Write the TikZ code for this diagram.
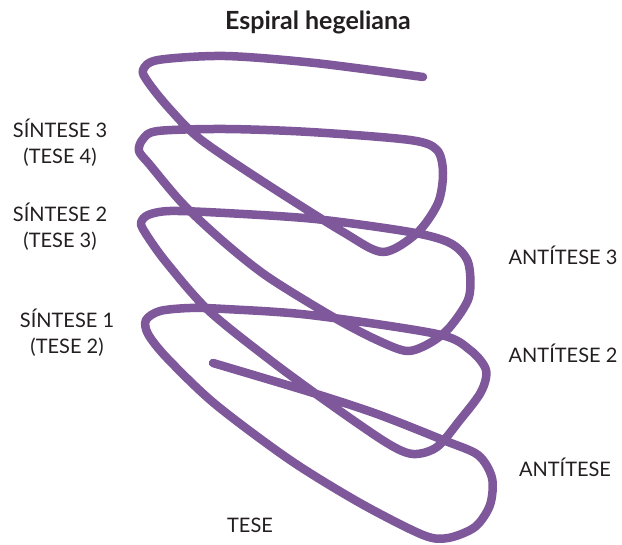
\documentclass[tikz,border=0pt]{standalone}
\usepackage{fontspec}
\setmainfont{Lato}
\usetikzlibrary{positioning}

\definecolor{hegelpurple}{RGB}{126,88,154}
\definecolor{labelink}{RGB}{35,31,32}

\begin{document}
\begin{tikzpicture}[x=1pt, y=-1pt,
		stage/.style={font=\fontsize{20}{26}\selectfont, text=labelink, align=center, inner sep=0pt},
		spiral/.style={line width=8.5pt, hegelpurple, line cap=round, line join=round}]
	
	\useasboundingbox (0,0) rectangle (622,545);
	
	% Title
	\node[font=\fontsize{25}{30}\selectfont\bfseries, text=labelink] (title) at (318,22) {Espiral hegeliana};
	
	% Spiral (from TESE upwards)
	\draw[spiral] plot[smooth, tension=0.5] coordinates {
		(213,363) (310,392) (377,414) (443,440) (478,455) (492,478) (490,505) (475,527) (448,538) (423,535)
		(360,503) (290,460) (215,404) (167,358) (148,334) (146,320) (160,311) (190,308)
		(225,309) (310,315) (437,334) (470,350) (486,370) (481,392) (460,420) (437,447) (413,454) (387,443)
		(330,404) (270,360) (208,310) (166,262) (146,234) (141,223) (148,215) (170,211)
		(225,213) (315,219) (410,232) (450,243) (468,262) (469,297) (450,327) (430,343) (407,351) (377,340)
		(333,317) (268,277) (225,243) (183,204) (150,165) (139,151) (143,139) (158,131)
		(225,129) (310,132) (410,140) (437,150) (443,173) (438,203) (417,233) (383,252) (343,232)
		(265,183) (200,139) (168,107) (148,82) (143,70) (158,60)
		(225,56) (315,63) (423,77)};
	
	% Syntheses (left)
	\node[stage] (sintese3) at (60,143) {SÍNTESE 3\\(TESE 4)};
	\node[stage] (sintese2) at (60,227) {SÍNTESE 2\\(TESE 3)};
	\node[stage] (sintese1) at (67,333) {SÍNTESE 1\\(TESE 2)};
	
	% Antitheses (right)
	\node[stage] (antitese3) at (563,255) {ANTÍTESE 3};
	\node[stage] (antitese2) at (563,353) {ANTÍTESE 2};
	\node[stage] (antitese1) at (565,467) {ANTÍTESE};
	
	% Thesis
	\node[stage] (tese) at (250,525) {TESE};
	
\end{tikzpicture}
\end{document}
